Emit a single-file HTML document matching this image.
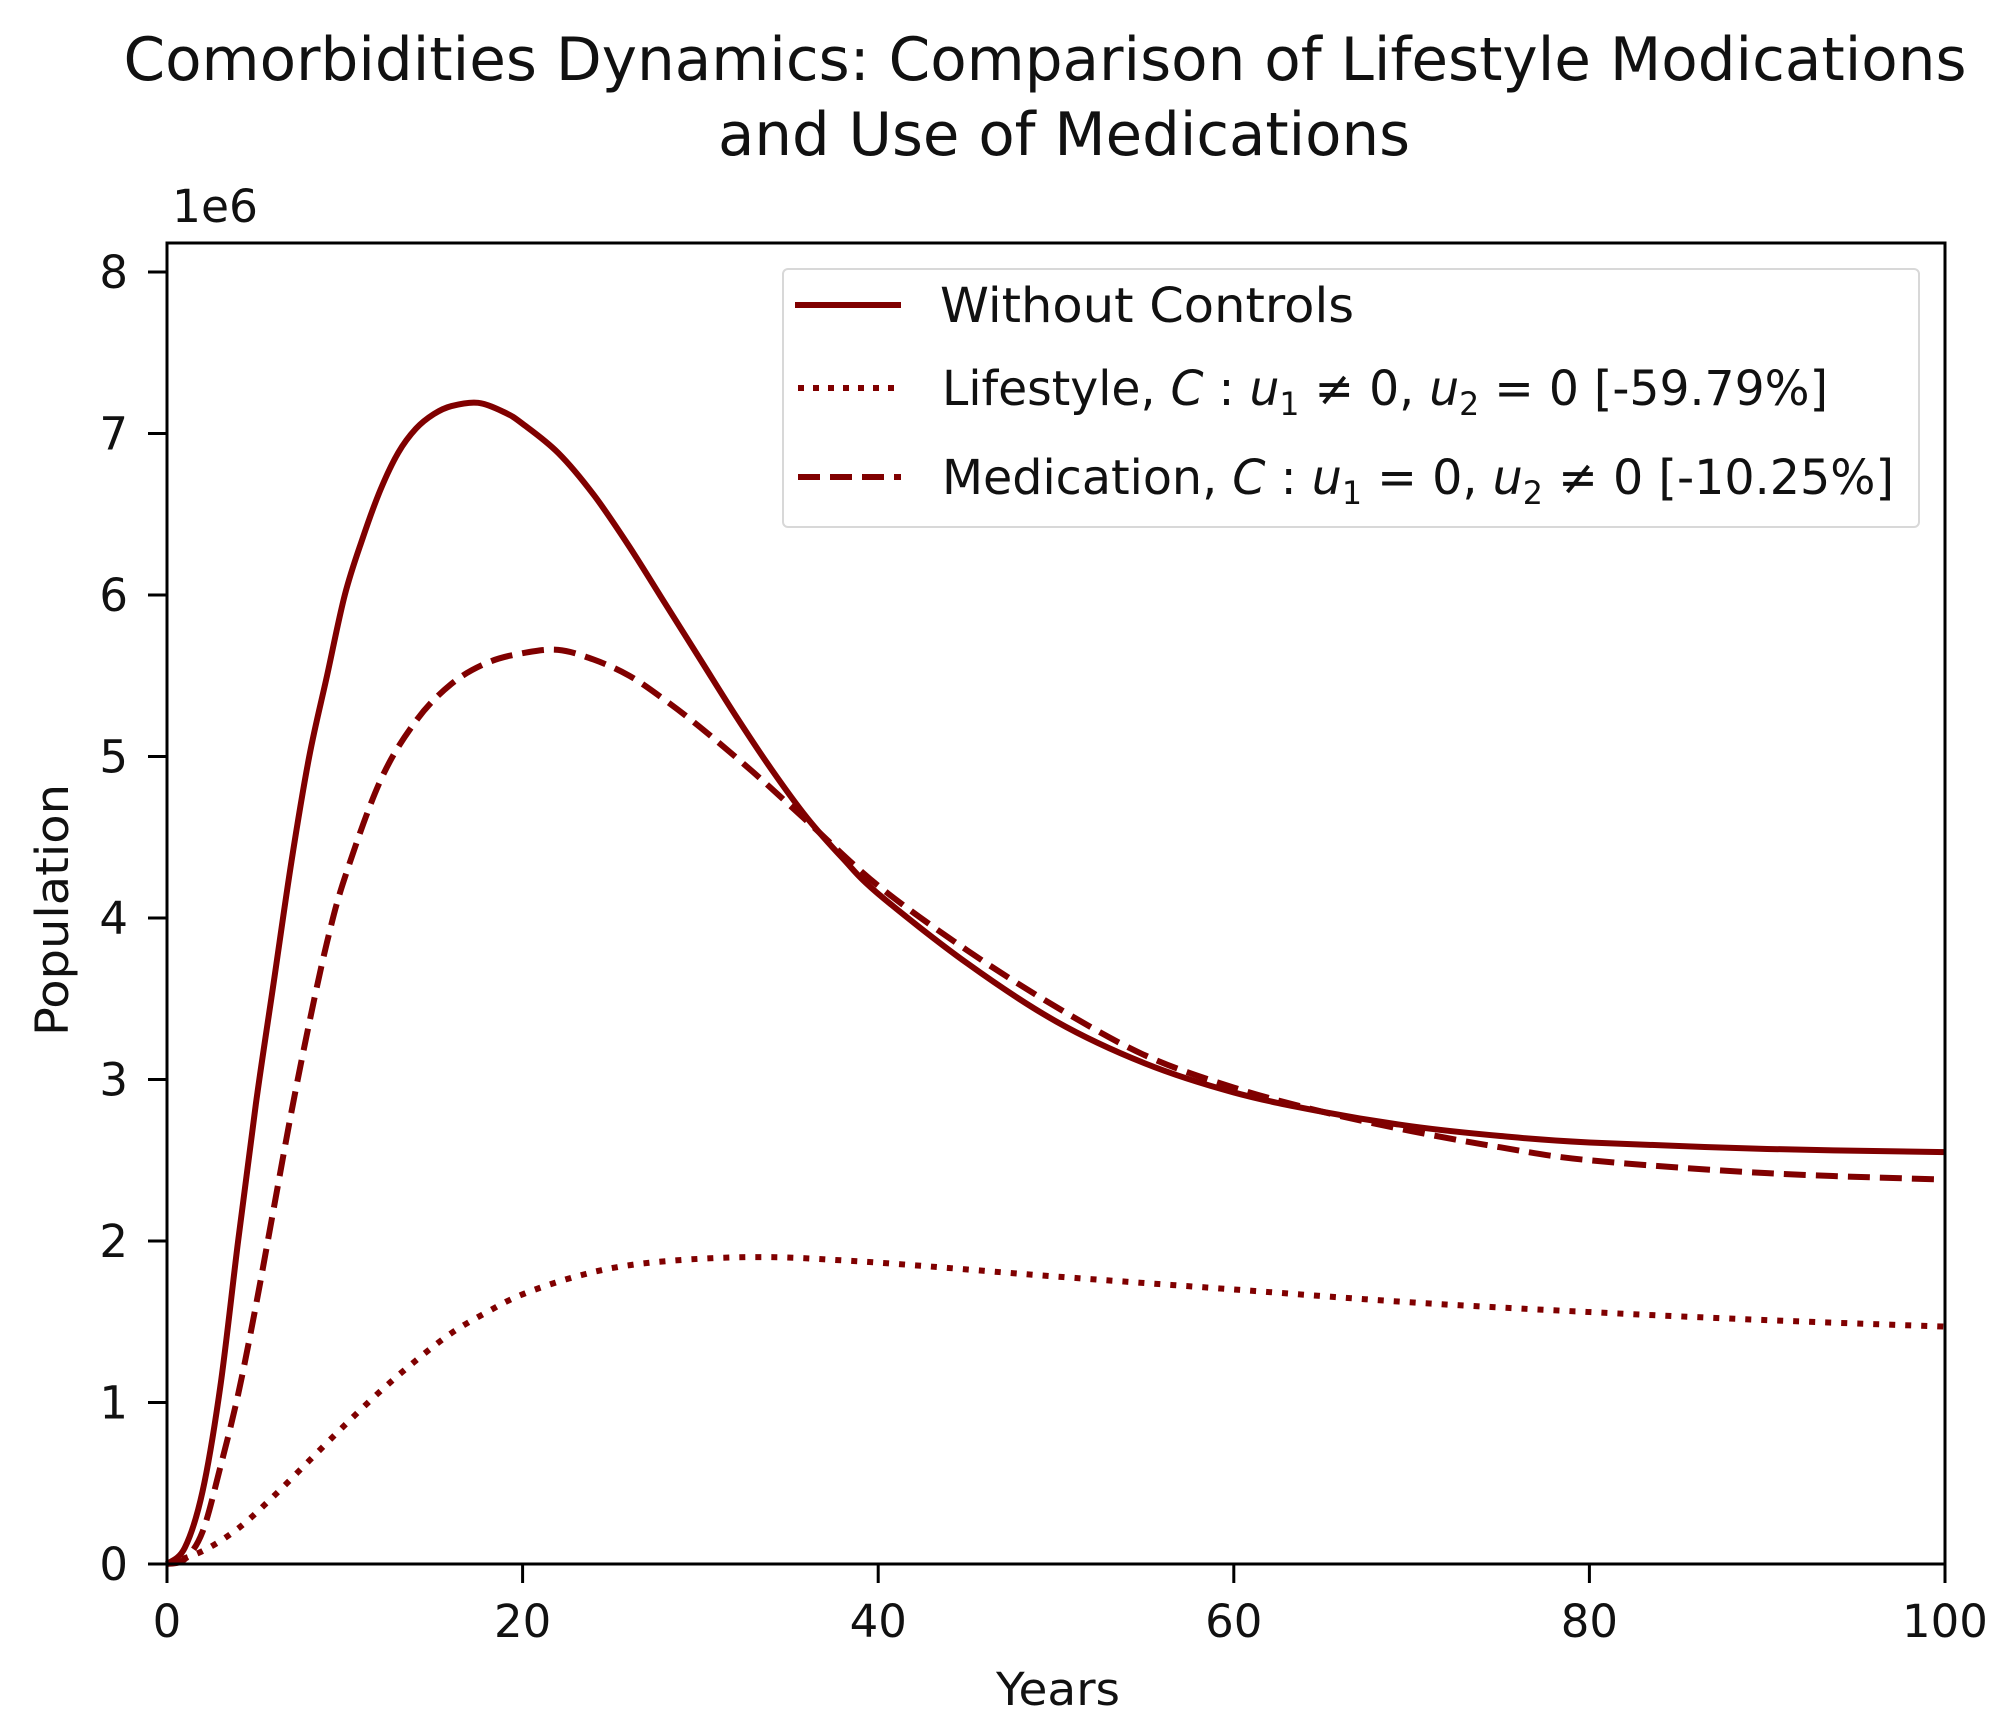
<!DOCTYPE html>
<html><head><meta charset="utf-8"><style>
html,body{margin:0;padding:0;background:#fff;}
svg{display:block;font-family:"DejaVu Sans","Liberation Sans",sans-serif;}
</style></head><body>
<svg id="chart" width="2001" height="1736" viewBox="0 0 2001 1736">
<rect width="2001" height="1736" fill="#fff"/>
<text x="1045" y="80" font-size="60" text-anchor="middle" textLength="1843" lengthAdjust="spacingAndGlyphs" fill="#111">Comorbidities Dynamics: Comparison of Lifestyle Modications</text>
<text x="1064" y="155" font-size="60" text-anchor="middle" textLength="692" lengthAdjust="spacingAndGlyphs" fill="#111">and Use of Medications</text>
<text x="172" y="222" font-size="45" textLength="86" lengthAdjust="spacingAndGlyphs" fill="#111">1e6</text>
<g id="plot"></g>
<g id="axes"></g>
<text x="1058" y="1705" font-size="45" text-anchor="middle" textLength="124" lengthAdjust="spacingAndGlyphs" fill="#111">Years</text>
<text transform="translate(68,910) rotate(-90)" font-size="45" text-anchor="middle" textLength="252" lengthAdjust="spacingAndGlyphs" fill="#111">Population</text>
<g>
<rect x="783" y="269" width="1136" height="258" rx="5" fill="#fff" fill-opacity="0.85" stroke="#d8d8d8" stroke-width="2"/>
<line x1="795" y1="305" x2="901" y2="305" stroke="#800000" stroke-width="6"/>
<text x="940" y="322" font-size="48" textLength="414" lengthAdjust="spacingAndGlyphs" fill="#111">Without Controls</text>
<line x1="798" y1="388" x2="901" y2="388" stroke="#800000" stroke-width="6" stroke-dasharray="6 9"/>
<text x="942" y="405" font-size="48" textLength="886" lengthAdjust="spacingAndGlyphs" fill="#111">Lifestyle, <tspan font-style="italic">C</tspan> : <tspan font-style="italic">u</tspan><tspan font-size="32" dy="10">1</tspan><tspan dy="-10"> ≠ 0, </tspan><tspan font-style="italic">u</tspan><tspan font-size="32" dy="10">2</tspan><tspan dy="-10"> = 0 [-59.79%]</tspan></text>
<line x1="798" y1="477" x2="901" y2="477" stroke="#800000" stroke-width="6" stroke-dasharray="22 10"/>
<text x="942" y="494" font-size="48" textLength="952" lengthAdjust="spacingAndGlyphs" fill="#111">Medication, <tspan font-style="italic">C</tspan> : <tspan font-style="italic">u</tspan><tspan font-size="32" dy="10">1</tspan><tspan dy="-10"> = 0, </tspan><tspan font-style="italic">u</tspan><tspan font-size="32" dy="10">2</tspan><tspan dy="-10"> ≠ 0 [-10.25%]</tspan></text>
</g>
</svg>
<script>
const xTicks = [0, 20, 40, 60, 80, 100];
const yTicks = [0, 1, 2, 3, 4, 5, 6, 7, 8];
const solidX = [0,1,2,3,4,5,6,7,8,9,10,11,12,13,14,15,16,17.5,19,20,22,24,26,28,30,32,34,36,38,40,45,50,55,60,65,70,75,80,90,100];
const solidY = [0,0.1,0.45,1.1,2.0,2.85,3.6,4.35,5.0,5.5,6.0,6.35,6.65,6.88,7.03,7.12,7.17,7.19,7.13,7.06,6.88,6.62,6.3,5.95,5.6,5.25,4.92,4.62,4.37,4.15,3.72,3.36,3.1,2.92,2.8,2.71,2.65,2.61,2.57,2.55];
const medX = [0,1,2,3,4,5,6,7,8,9,10,12,14,16,18,20,22,24,26,28,30,33,36,40,45,50,55,60,65,70,75,80,90,100];
const medY = [0,0.03,0.2,0.6,1.05,1.6,2.2,2.8,3.35,3.85,4.25,4.85,5.22,5.45,5.58,5.64,5.66,5.6,5.5,5.35,5.18,4.9,4.6,4.2,3.8,3.45,3.15,2.95,2.8,2.68,2.58,2.5,2.42,2.38];
const lifeX = [0,2,4,6,8,10,12,14,16,18,20,23,26,30,34,38,42,50,60,70,80,90,100];
const lifeY = [0,0.08,0.22,0.42,0.64,0.86,1.07,1.26,1.43,1.56,1.67,1.78,1.85,1.89,1.9,1.88,1.85,1.78,1.7,1.62,1.56,1.51,1.47];

const X0=167, X1=1945, Y0=1564, Y8=272, TOP=243;
const sx = v => X0 + (X1-X0)*v/100;
const sy = v => Y0 - (Y0-Y8)*v/8;
const NS='http://www.w3.org/2000/svg';
const plot=document.getElementById('plot'), axes=document.getElementById('axes');

function pathD(xs, ys){
  const p = xs.map((x,i)=>[sx(x), sy(ys[i])]);
  let d = 'M'+p[0][0]+','+p[0][1];
  for(let i=0;i<p.length-1;i++){
    const a=p[i-1]||p[i], b=p[i], c=p[i+1], e=p[i+2]||c;
    const c1=[b[0]+(c[0]-a[0])/6, b[1]+(c[1]-a[1])/6];
    const c2=[c[0]-(e[0]-b[0])/6, c[1]-(e[1]-b[1])/6];
    d+=' C'+c1+' '+c2+' '+c;
  }
  return d;
}
function series(xs, ys, dash, name){
  const el=document.createElementNS(NS,'path');
  el.setAttribute('d', pathD(xs, ys));
  el.setAttribute('fill','none');
  el.setAttribute('stroke','#800000');
  el.setAttribute('stroke-width','6');
  if(dash) el.setAttribute('stroke-dasharray', dash);
  
  
  plot.appendChild(el);
}
series(lifeX, lifeY, '6 10', 'line-lifestyle');
series(medX, medY, '22 10', 'line-medication');
series(solidX, solidY, null, 'line-without-controls');

const frame=document.createElementNS(NS,'rect');
frame.setAttribute('x',X0); frame.setAttribute('y',TOP);
frame.setAttribute('width',X1-X0); frame.setAttribute('height',Y0-TOP);
frame.setAttribute('fill','none'); frame.setAttribute('stroke','#000'); frame.setAttribute('stroke-width','3');


axes.appendChild(frame);

xTicks.forEach(t=>{
  const l=document.createElementNS(NS,'line');
  l.setAttribute('x1',sx(t)); l.setAttribute('x2',sx(t)); l.setAttribute('y1',Y0); l.setAttribute('y2',Y0+19);
  l.setAttribute('stroke','#000'); l.setAttribute('stroke-width','3');
  
  
  axes.appendChild(l);
  const tx=document.createElementNS(NS,'text');
  tx.setAttribute('x',sx(t)); tx.setAttribute('y',1637);
  tx.setAttribute('font-size','45'); tx.setAttribute('text-anchor','middle'); tx.setAttribute('fill','#111');
  tx.textContent=t;
  
  
  axes.appendChild(tx);
});
yTicks.forEach(t=>{
  const l=document.createElementNS(NS,'line');
  l.setAttribute('x1',X0-19); l.setAttribute('x2',X0); l.setAttribute('y1',sy(t)); l.setAttribute('y2',sy(t));
  l.setAttribute('stroke','#000'); l.setAttribute('stroke-width','3');
  
  
  axes.appendChild(l);
  const tx=document.createElementNS(NS,'text');
  tx.setAttribute('x',128); tx.setAttribute('y',sy(t)+16);
  tx.setAttribute('font-size','45'); tx.setAttribute('text-anchor','end'); tx.setAttribute('fill','#111');
  tx.textContent=t;
  
  
  axes.appendChild(tx);
});
</script>
</body></html>
